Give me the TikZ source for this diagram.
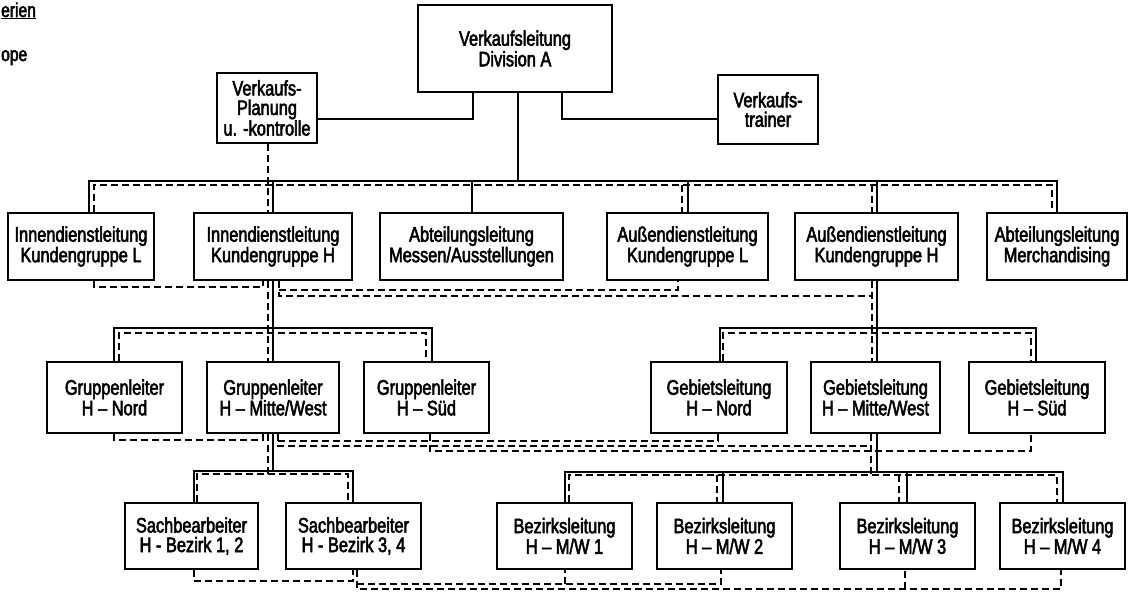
\documentclass[tikz,border=0pt]{standalone}
\usepackage{fontspec}
\setmainfont{Liberation Sans}[FakeStretch=0.78,FakeBold=2.5]
\begin{document}
\begin{tikzpicture}[x=1pt,y=-1pt,
  box/.style={draw, line width=2.2pt, inner sep=0pt, align=center,
              font=\fontsize{21}{19.5}\selectfont},
  org/.style={line width=1.5pt},
  staff/.style={line width=1.5pt, dash pattern=on 7pt off 4pt},
  legend/.style={inner sep=0pt, font=\fontsize{20}{19}\selectfont}]
\useasboundingbox (0,0) rectangle (1131,592);
\fill[white] (0,0) rectangle (1131,592);

% legend fragments at the left margin
\node[legend, anchor=base west] (lg1) at (1,17) {\underline{erien}};
\node[legend, anchor=base west] (lg2) at (1,61) {ope};

% level 0 and staff positions
\node[box, minimum width=194pt, minimum height=87pt] (vl) at (515,48.5) {Verkaufsleitung\\Division A};
\node[box, minimum width=100pt, minimum height=70pt] (pl) at (267,108) {Verkaufs-\\Planung\\u. -kontrolle};
\node[box, minimum width=100pt, minimum height=69pt] (tr) at (768,109.5) {Verkaufs-\\trainer};

% level 1
\node[box, minimum width=146pt, minimum height=67pt] (iL) at (81,246.5) {Innendienstleitung\\Kundengruppe L};
\node[box, minimum width=158pt, minimum height=67pt] (iH) at (273,246.5) {Innendienstleitung\\Kundengruppe H};
\node[box, minimum width=183pt, minimum height=67pt] (ms) at (471.5,246.5) {Abteilungsleitung\\Messen/Ausstellungen};
\node[box, minimum width=161pt, minimum height=67pt] (aL) at (687.5,246.5) {Außendienstleitung\\Kundengruppe L};
\node[box, minimum width=163pt, minimum height=67pt] (aH) at (876.5,246.5) {Außendienstleitung\\Kundengruppe H};
\node[box, minimum width=140pt, minimum height=67pt] (mc) at (1057,246.5) {Abteilungsleitung\\Merchandising};

% level 2
\node[box, minimum width=135pt, minimum height=71pt] (gN) at (114.5,397.5) {Gruppenleiter\\H – Nord};
\node[box, minimum width=132pt, minimum height=71pt] (gM) at (273,397.5) {Gruppenleiter\\H – Mitte/West};
\node[box, minimum width=125pt, minimum height=71pt] (gS) at (426.5,397.5) {Gruppenleiter\\H – Süd};
\node[box, minimum width=136pt, minimum height=71pt] (bN) at (719,397.5) {Gebietsleitung\\H – Nord};
\node[box, minimum width=129pt, minimum height=71pt] (bM) at (875.5,397.5) {Gebietsleitung\\H – Mitte/West};
\node[box, minimum width=136pt, minimum height=71pt] (bS) at (1037,397.5) {Gebietsleitung\\H – Süd};

% level 3
\node[box, minimum width=133pt, minimum height=66pt] (s1) at (191.5,536) {Sachbearbeiter\\H - Bezirk 1, 2};
\node[box, minimum width=135pt, minimum height=66pt] (s2) at (353.5,536) {Sachbearbeiter\\H - Bezirk 3, 4};
\node[box, minimum width=135pt, minimum height=66pt] (z1) at (564.5,536) {Bezirksleitung\\H – M/W 1};
\node[box, minimum width=135pt, minimum height=66pt] (z2) at (724.5,536) {Bezirksleitung\\H – M/W 2};
\node[box, minimum width=135pt, minimum height=66pt] (z3) at (907.5,536) {Bezirksleitung\\H – M/W 3};
\node[box, minimum width=125pt, minimum height=66pt] (z4) at (1062.5,536) {Bezirksleitung\\H – M/W 4};

% ---- line relations (solid) ----
\draw[org] (473,0 |- vl.south) |- (pl.east |- 0,119);
\draw[org] (562,0 |- vl.south) |- (tr.west |- 0,119);
\draw[org] (518,0 |- vl.south) -- (518,181);
\draw[org] (89,0 |- iL.north) -- (89,181) -- (1057,181) -- (1057,0 |- mc.north);
\foreach \x/\n in {273/iH,472/ms,688/aL,877/aH}
  \draw[org] (\x,181) -- (\x,0 |- \n.north);

\draw[org] (273,0 |- iH.south) -- (273,0 |- gM.north);
\draw[org] (114,0 |- gN.north) -- (114,328) -- (432,328) -- (432,0 |- gS.north);
\draw[org] (877,0 |- aH.south) -- (877,0 |- bM.north);
\draw[org] (720,0 |- bN.north) -- (720,328) -- (1036,328) -- (1036,0 |- bS.north);

\draw[org] (273,0 |- gM.south) -- (273,471);
\draw[org] (194,0 |- s1.north) -- (194,471) -- (353,471) -- (353,0 |- s2.north);
\draw[org] (877,0 |- bM.south) -- (877,472);
\draw[org] (565,0 |- z1.north) -- (565,472) -- (1063,472) -- (1063,0 |- z4.north);
\draw[org] (723,472) -- (723,0 |- z2.north);
\draw[org] (907,472) -- (907,0 |- z3.north);

% ---- functional relations (dashed) ----
\draw[staff] (268,0 |- pl.south) -- (268,0 |- iH.north);
\draw[staff] (94,0 |- iL.north) -- (94,185) -- (1052,185) -- (1052,0 |- mc.north);
\draw[staff] (682,185) -- (682,0 |- aL.north);
\draw[staff] (872,185) -- (872,0 |- aH.north);

\draw[staff] (94,0 |- iL.south) -- (94,287) -- (263,287) -- (263,0 |- iH.south);
\draw[staff] (279,0 |- iH.south) -- (279,296) -- (872,296);
\draw[staff] (279,290) -- (678,290) -- (678,0 |- aL.south);
\draw[staff] (268,0 |- iH.south) -- (268,0 |- gM.north);
\draw[staff] (872,0 |- aH.south) -- (872,0 |- bM.north);
\draw[staff] (119,0 |- gN.north) -- (119,333) -- (426,333) -- (426,0 |- gS.north);
\draw[staff] (723,0 |- bN.north) -- (723,333) -- (1031,333) -- (1031,0 |- bS.north);

\draw[staff] (114,0 |- gN.south) -- (114,440) -- (263,440) -- (263,0 |- gM.south);
\draw[staff] (278,0 |- gM.south) -- (278,446) -- (871,446);
\draw[staff] (278,441) -- (718,441) -- (718,0 |- bN.south);
\draw[staff] (430,0 |- gS.south) -- (430,451) -- (1031,451) -- (1031,0 |- bS.south);
\draw[staff] (268,0 |- gM.south) -- (268,474);
\draw[staff] (197,0 |- s1.north) -- (197,474) -- (348,474) -- (348,0 |- s2.north);
\draw[staff] (871,0 |- bM.south) -- (871,475);
\draw[staff] (569,0 |- z1.north) -- (569,475) -- (1057,475) -- (1057,0 |- z4.north);
\draw[staff] (717,475) -- (717,0 |- z2.north);
\draw[staff] (899,475) -- (899,0 |- z3.north);

\draw[staff] (194,0 |- s1.south) -- (194,581) -- (353,581) -- (353,0 |- s2.south);
\draw[staff] (357,0 |- s2.south) -- (357,589) -- (1061,589) -- (1061,0 |- z4.south);
\draw[staff] (357,584) -- (721,584) -- (721,0 |- z2.south);
\draw[staff] (565,584) -- (565,0 |- z1.south);
\draw[staff] (905,589) -- (905,0 |- z3.south);
\end{tikzpicture}
\end{document}
